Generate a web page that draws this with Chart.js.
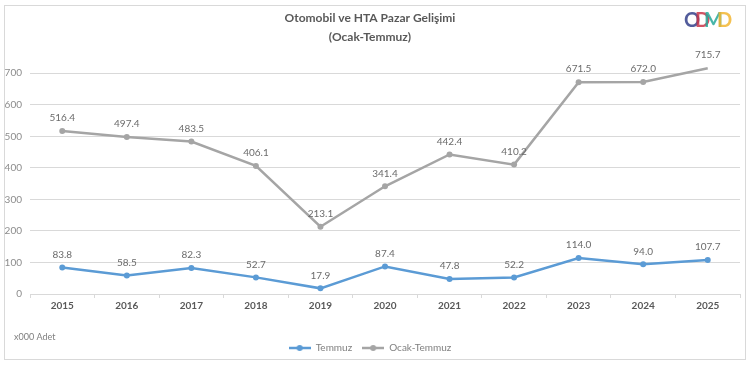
<!DOCTYPE html>
<html>
<head>
<meta charset="utf-8">
<script src="https://cdn.jsdelivr.net/npm/chart.js@4"></script>
<style>
  html, body { margin: 0; padding: 0; background: #fff; }
  #wrap { width: 750px; height: 367px; }
</style>
</head>
<body>
<div id="wrap"><canvas id="odmdChart" width="750" height="367"></canvas></div>
<script>
	'use strict';

	var years = ['2015', '2016', '2017', '2018', '2019', '2020', '2021', '2022', '2023', '2024', '2025'];
	var temmuz = [83.8, 58.5, 82.3, 52.7, 17.9, 87.4, 47.8, 52.2, 114.0, 94.0, 107.7];
	var ocakTemmuz = [516.4, 497.4, 483.5, 406.1, 213.1, 341.4, 442.4, 410.2, 671.5, 672.0, 715.7];
	var yTicks = [0, 100, 200, 300, 400, 500, 600, 700];

	var fontFam = 'Lato, "Open Sans", sans-serif';
	var blue = '#5b9bd5';
	var grey = '#a5a5a5';

	// legend marker: short line with a dot in the middle
	function legendMarker(color){
		var c = document.createElement('canvas');
		c.width = 22;
		c.height = 8;
		var g = c.getContext('2d');
		g.strokeStyle = color;
		g.lineWidth = 2.5;
		g.beginPath();
		g.moveTo(0, 4);
		g.lineTo(22, 4);
		g.stroke();
		g.fillStyle = color;
		g.beginPath();
		g.arc(11, 4, 3, 0, Math.PI * 2);
		g.fill();
		return c;
	}

	var frame = {
		id: 'frame',
		beforeDraw: function(chart){
			var ctx = chart.ctx;
			ctx.save();
			ctx.fillStyle = '#fff';
			ctx.fillRect(0, 0, chart.width, chart.height);
			ctx.strokeStyle = '#d9d9d9';
			ctx.lineWidth = 1;
			ctx.strokeRect(4.5, 5.5, 741, 354);
			ctx.restore();
		},
		afterDraw: function(chart){
			var ctx = chart.ctx;
			ctx.save();
			// unit note
			ctx.font = '9px ' + fontFam;
			ctx.fillStyle = '#7f7f7f';
			ctx.textBaseline = 'middle';
			ctx.fillText('x000 Adet', 14, 337);
			// ODMD logo
			ctx.font = 'bold 20px ' + fontFam;
			ctx.textBaseline = 'middle';
			var letters = [['O', '#34408a', 684], ['D', '#c8364a', 695], ['M', '#27a89a', 704], ['D', '#f2b632', 717]];
			letters.forEach(function(l){
				ctx.globalAlpha = 0.85;
				ctx.fillStyle = l[1];
				ctx.fillText(l[0], l[2], 21);
			});
			ctx.restore();
		}
	};

	var valueLabels = {
		id: 'valueLabels',
		afterDatasetsDraw: function(chart){
			var ctx = chart.ctx;
			ctx.save();
			ctx.font = '10px ' + fontFam;
			ctx.fillStyle = '#6b6b6b';
			ctx.textAlign = 'center';
			ctx.textBaseline = 'middle';
			chart.data.datasets.forEach(function(ds, i){
				chart.getDatasetMeta(i).data.forEach(function(pt, j){
					ctx.fillText(ds.data[j].toFixed(1), pt.x, pt.y - 13);
				});
			});
			ctx.restore();
		}
	};

	var ctx = document.getElementById('odmdChart').getContext('2d');
	var odmdChart = new Chart(ctx, {
		type: 'line',
		data: {
			labels: years,
			datasets: [{
				label: 'Temmuz',
				data: temmuz,
				borderColor: blue,
				backgroundColor: blue,
				borderWidth: 2.5,
				pointRadius: 3,
				pointBorderWidth: 0,
				marker: legendMarker(blue),
				tension: 0
			}, {
				label: 'Ocak-Temmuz',
				data: ocakTemmuz,
				borderColor: grey,
				backgroundColor: grey,
				borderWidth: 2.5,
				pointRadius: 3,
				pointBorderWidth: 0,
				marker: legendMarker(grey),
				tension: 0
			}]
		},
		options: {
			responsive: false,
			animation: false,
			clip: false,
			layout: {
				padding: { left: 0, right: 10, top: 0, bottom: 4 }
			},
			scales: {
				x: {
					offset: true,
					grid: {
						offset: true,
						drawOnChartArea: false,
						color: '#d9d9d9',
						tickLength: 4
					},
					border: { color: '#d9d9d9' },
					ticks: {
						color: '#595959',
						font: { family: fontFam, size: 10, weight: 'bold' },
						padding: 2,
						maxRotation: 0
					},
					afterFit: function(scale){ scale.height = 39; }
				},
				y: {
					min: 0,
					max: 700,
					afterBuildTicks: function(scale){
						scale.ticks = yTicks.map(function(v){ return { value: v }; });
					},
					grid: { color: '#d9d9d9', drawTicks: false },
					border: { display: false },
					ticks: {
						color: '#8c8c8c',
						font: { family: fontFam, size: 10 },
						padding: 8
					},
					afterFit: function(scale){ scale.width = 30; }
				}
			},
			plugins: {
				title: {
					display: true,
					text: ['Otomobil ve HTA Pazar Gelişimi', '(Ocak-Temmuz)'],
					color: '#595959',
					font: { family: fontFam, size: 12, weight: 'bold', lineHeight: 1.55 },
					padding: { top: 9, bottom: 27 }
				},
				legend: {
					position: 'bottom',
					labels: {
						color: '#808080',
						font: { family: fontFam, size: 10 },
						usePointStyle: true,
						pointStyleWidth: 22,
						boxHeight: 8,
						padding: 10,
						generateLabels: function(chart){
							return chart.data.datasets.map(function(ds, i){
								return {
									text: ds.label,
									fontColor: '#808080',
									pointStyle: ds.marker,
									datasetIndex: i,
									hidden: false
								};
							});
						}
					}
				},
				tooltip: { enabled: false }
			}
		},
		plugins: [frame, valueLabels]
	});
</script>
</body>
</html>
